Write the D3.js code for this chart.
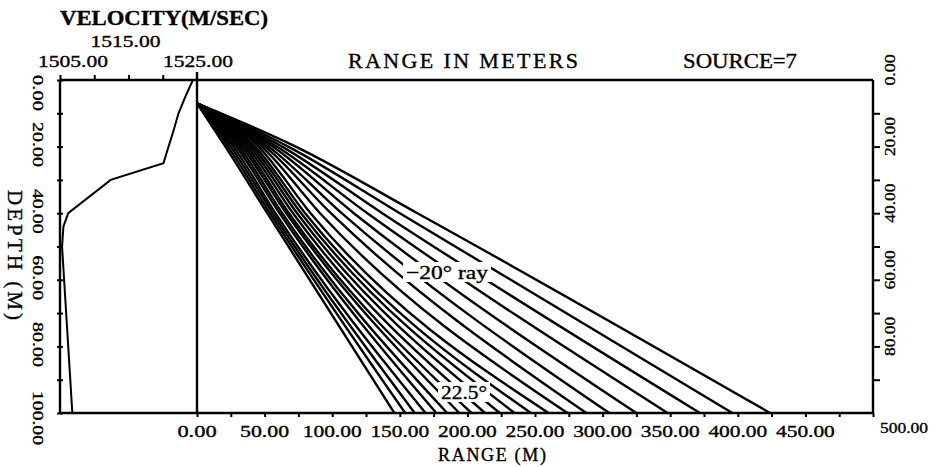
<!DOCTYPE html>
<html>
<head>
<meta charset="utf-8">
<script src="https://cdn.jsdelivr.net/npm/d3@7"></script>
<style>
  body { margin: 0; background: #fff; }
  svg { display: block; }
  text { font-family: "Liberation Serif", "DejaVu Serif", serif; fill: #000; stroke: #000; stroke-width: 0.35px; }
</style>
</head>
<body>
<svg id="chart" width="944" height="467"></svg>
<script>
// Sound-speed profile: depth (m) and velocity (m/s)
const profileDepth    = [0, 5, 10, 15, 25, 30, 40, 44, 50, 60, 80, 100];
const profileVelocity = [1524.4, 1523.3, 1522.3, 1521.6, 1520.1, 1512.4, 1506.2, 1505.5, 1505.3, 1505.6, 1506.2, 1506.8];

// Ray fan from the source: range (m) reached at 20 m, 40 m and at the bottom (100 m)
const sourceDepth = 7;
const rayRangeAt20     = [21, 23, 25, 27, 29, 31, 33, 35, 37, 39, 41, 43, 45.5, 48, 50.5, 53, 56, 59, 63, 67.5, 73];
const rayRangeAt40     = [52, 54, 56, 58, 61, 63, 66, 68, 71, 74, 77, 80, 84, 91, 99, 107, 116, 126, 137, 150, 163];
const rayRangeAtBottom = [146, 154, 161, 169, 177, 185, 194, 203, 213, 224, 235, 247, 260, 274, 288, 305, 325, 348, 372, 396, 424];

// Tick labels
const rangeTickValues  = [0, 50, 100, 150, 200, 250, 300, 350, 400, 450];
const rangeTickLabels  = ["0.00", "50.00", "100.00", "150.00", "200.00", "250.00", "300.00", "350.00", "400.00", "450.00"];
const rangeEndLabel    = "500.00";
const depthTickValues  = [0, 20, 40, 60, 80, 100];
const depthTickLabels  = ["0.00", "20.00", "40.00", "60.00", "80.00", "100.00"];
const rightDepthValues = [0, 20, 40, 60, 80];
const rightDepthLabels = ["0.00", "20.00", "40.00", "60.00", "80.00"];
const velocityTickValues = [1505, 1515, 1525];
const velocityTickLabels = ["1505.00", "1515.00", "1525.00"];

const svg = d3.select("#chart");

const plot = { left: 60, right: 873, top: 80, bottom: 413 };
const y = d3.scaleLinear().domain([0, 100]).range([plot.top, plot.bottom]);
const xRange = d3.scaleLinear().domain([0, 500]).range([197, plot.right]);
const xVel = d3.scaleLinear().domain([1505, 1525]).range([plot.left, 197]);

const axisStyle = g => {
  g.select(".domain").remove();
  g.selectAll("line").attr("stroke", "#000").attr("stroke-width", 2);
  g.selectAll("text").remove();
};

// ---- rays ----
const rayLine = d3.line()
  .x(d => xRange(d[0]))
  .y(d => y(d[1]))
  .curve(d3.curveMonotoneX);

const rays = rayRangeAtBottom.map((rb, i) => [
  [0, sourceDepth],
  [rayRangeAt20[i], 20],
  [rayRangeAt40[i], 40],
  [rb, 100]
]);

svg.append("g")
  .selectAll("path")
  .data(rays)
  .join("path")
  .attr("d", rayLine)
  .attr("fill", "none")
  .attr("stroke", "#000")
  .attr("stroke-width", 2.4);

// ---- velocity profile ----
const profileLine = d3.line()
  .x(d => xVel(d[0]))
  .y(d => y(d[1]));
svg.append("path")
  .datum(profileVelocity.map((v, i) => [v, profileDepth[i]]))
  .attr("d", profileLine)
  .attr("fill", "none")
  .attr("stroke", "#000")
  .attr("stroke-width", 2);

// ---- frame ----
const frame = svg.append("g").attr("stroke", "#000").attr("stroke-width", 2.4);
frame.append("line").attr("x1", plot.left).attr("x2", plot.right).attr("y1", plot.top).attr("y2", plot.top);
frame.append("line").attr("x1", plot.left).attr("x2", plot.right).attr("y1", plot.bottom).attr("y2", plot.bottom);
frame.append("line").attr("x1", plot.left).attr("x2", plot.left).attr("y1", plot.top).attr("y2", plot.bottom);
frame.append("line").attr("x1", plot.right).attr("x2", plot.right).attr("y1", plot.top).attr("y2", plot.bottom);
frame.append("line").attr("x1", xRange(0)).attr("x2", xRange(0)).attr("y1", plot.top - 8).attr("y2", plot.bottom);

// ---- axes ticks ----
svg.append("g").attr("transform", `translate(0,${plot.bottom})`)
  .call(d3.axisBottom(xRange).tickValues(d3.range(0, 501, 25)).tickSize(4).tickFormat(""))
  .call(axisStyle);

svg.append("g").attr("transform", `translate(0,${plot.top})`)
  .call(d3.axisTop(xVel).tickValues([1505, 1510, 1515, 1520]).tickSize(5).tickFormat(""))
  .call(axisStyle);

svg.append("g").attr("transform", `translate(${plot.left + 3},0)`)
  .call(d3.axisLeft(y).tickValues(d3.range(0, 101, 10)).tickSize(6).tickFormat(""))
  .call(axisStyle);

svg.append("g").attr("transform", `translate(${plot.right},0)`)
  .call(d3.axisRight(y).tickValues(d3.range(10, 100, 10)).tickSize(7).tickFormat(""))
  .call(axisStyle);

// ---- tick labels ----
svg.append("g").selectAll("text")
  .data(rangeTickValues)
  .join("text")
  .attr("x", d => xRange(d))
  .attr("y", 437)
  .attr("text-anchor", "middle")
  .attr("font-size", 16.5)
  .attr("textLength", (d, i) => rangeTickLabels[i].length * 9.8)
  .attr("lengthAdjust", "spacingAndGlyphs")
  .text((d, i) => rangeTickLabels[i]);

svg.append("text")
  .attr("x", xRange(500) + 7)
  .attr("y", 433)
  .attr("font-size", 15)
  .attr("textLength", 48)
  .attr("lengthAdjust", "spacingAndGlyphs")
  .text(rangeEndLabel);

// left depth labels (reading downward)
svg.append("g").selectAll("text")
  .data(depthTickValues)
  .join("text")
  .attr("transform", (d, i) => {
    const cy = y(d) + (i === 0 ? 13 : (i === depthTickValues.length - 1 ? 5 : -2));
    return `translate(33,${cy}) rotate(90)`;
  })
  .attr("text-anchor", "middle")
  .attr("font-size", 15.5)
  .attr("textLength", (d, i) => depthTickLabels[i].length * 9)
  .attr("lengthAdjust", "spacingAndGlyphs")
  .text((d, i) => depthTickLabels[i]);

// right depth labels (reading upward)
svg.append("g").selectAll("text")
  .data(rightDepthValues)
  .join("text")
  .attr("transform", d => `translate(895,${y(d) - 10}) rotate(-90)`)
  .attr("text-anchor", "middle")
  .attr("font-size", 15)
  .attr("textLength", (d, i) => rightDepthLabels[i].length * 7.8)
  .attr("lengthAdjust", "spacingAndGlyphs")
  .text((d, i) => rightDepthLabels[i]);

// velocity labels (staggered rows)
const velRowY = [67, 47, 67];
const velShift = [13, -3, 1];
svg.append("g").selectAll("text")
  .data(velocityTickValues)
  .join("text")
  .attr("x", (d, i) => xVel(d) + velShift[i])
  .attr("y", (d, i) => velRowY[i])
  .attr("text-anchor", "middle")
  .attr("font-size", 17.5)
  .attr("textLength", 70)
  .attr("lengthAdjust", "spacingAndGlyphs")
  .text((d, i) => velocityTickLabels[i]);

// ---- titles ----
svg.append("text")
  .attr("x", 60).attr("y", 25)
  .attr("font-size", 20).attr("font-weight", "bold")
  .attr("textLength", 208).attr("lengthAdjust", "spacingAndGlyphs")
  .text("VELOCITY(M/SEC)");

svg.append("text")
  .attr("x", 348).attr("y", 68)
  .attr("font-size", 22)
  .attr("textLength", 230).attr("lengthAdjust", "spacing")
  .text("RANGE IN METERS");

svg.append("text")
  .attr("x", 683).attr("y", 68)
  .attr("font-size", 20)
  .attr("textLength", 114).attr("lengthAdjust", "spacingAndGlyphs")
  .text("SOURCE=7");

svg.append("text")
  .attr("x", 438).attr("y", 461)
  .attr("font-size", 18)
  .attr("textLength", 108).attr("lengthAdjust", "spacing")
  .text("RANGE (M)");

svg.append("text")
  .attr("transform", "translate(8,255) rotate(90)")
  .attr("text-anchor", "middle")
  .attr("font-size", 21)
  .attr("textLength", 130).attr("lengthAdjust", "spacing")
  .text("DEPTH (M)");

// ---- ray annotations ----
function tag(cx, cy, w, h, label, size) {
  svg.append("rect")
    .attr("x", cx - w / 2).attr("y", cy - h / 2)
    .attr("width", w).attr("height", h)
    .attr("fill", "#fff");
  svg.append("text")
    .attr("x", cx).attr("y", cy + size * 0.35)
    .attr("text-anchor", "middle")
    .attr("font-size", size)
    .attr("textLength", w - 6).attr("lengthAdjust", "spacingAndGlyphs")
    .text(label);
}
tag(447, 272, 88, 20, "\u221220\u00b0 ray", 19);
tag(464, 392, 52, 20, "22.5\u00b0", 19);
</script>
</body>
</html>
